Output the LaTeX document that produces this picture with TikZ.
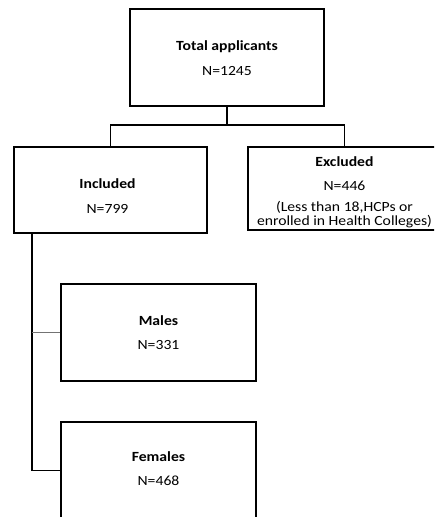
\documentclass[tikz,border=0pt]{standalone}
\usepackage{fontspec}
\setmainfont{Carlito}[FakeStretch=1.12]
\begin{document}
\begin{tikzpicture}[x=1pt,y=-1pt,
  box/.style={draw=black, line width=1.8pt, rectangle, inner sep=0pt},
  txt/.style={align=center, inner sep=0pt, font=\fontsize{14}{14}\selectfont},
  conn/.style={draw=black, line width=1.8pt},
  thinconn/.style={draw=black!55, line width=0.9pt}]
\useasboundingbox (0,0) rectangle (434,517);
\clip (0,0) rectangle (434,517);
\node[box, minimum width=194pt, minimum height=97pt] (top) at (227,57.5) {};
\node[box, minimum width=193pt, minimum height=86pt] (incl) at (110.5,190) {};
\node[box, minimum width=193pt, minimum height=83pt] (excl) at (344.5,188.5) {};
\node[box, minimum width=195pt, minimum height=97pt] (males) at (158.5,332.5) {};
\node[box, minimum width=195pt, minimum height=97pt] (fem) at (158.5,470.5) {};
\node[txt] (toptxt) at ([yshift=-1pt]top.center) {\textbf{Total applicants}\\[11pt]N=1245};
\node[txt] (incltxt) at ([xshift=-3pt,yshift=-6.5pt]incl.center) {\textbf{Included}\\[11pt]N=799};
\node[txt] (excltxt) at ([yshift=-4pt]excl.center)
  {\textbf{Excluded}\\[10pt]N=446\\[7pt](Less than 18,HCPs or\\enrolled in Health Colleges)};
\node[txt] (malestxt) at (males.center) {\textbf{Males}\\[10pt]N=331};
\node[txt] (femtxt) at ([yshift=1.5pt]fem.center) {\textbf{Females}\\[10pt]N=468};
\coordinate (split) at (227,125);
\coordinate (sp) at (32,233);
\draw[conn] (top.south) -- (split);
\draw[conn] (split) -| (incl.north);
\draw[conn] (split) -| (excl.north);
\draw[conn] (sp) |- (fem.west);
\draw[thinconn] (males.west) -- (sp |- males.west);
\end{tikzpicture}
\end{document}
